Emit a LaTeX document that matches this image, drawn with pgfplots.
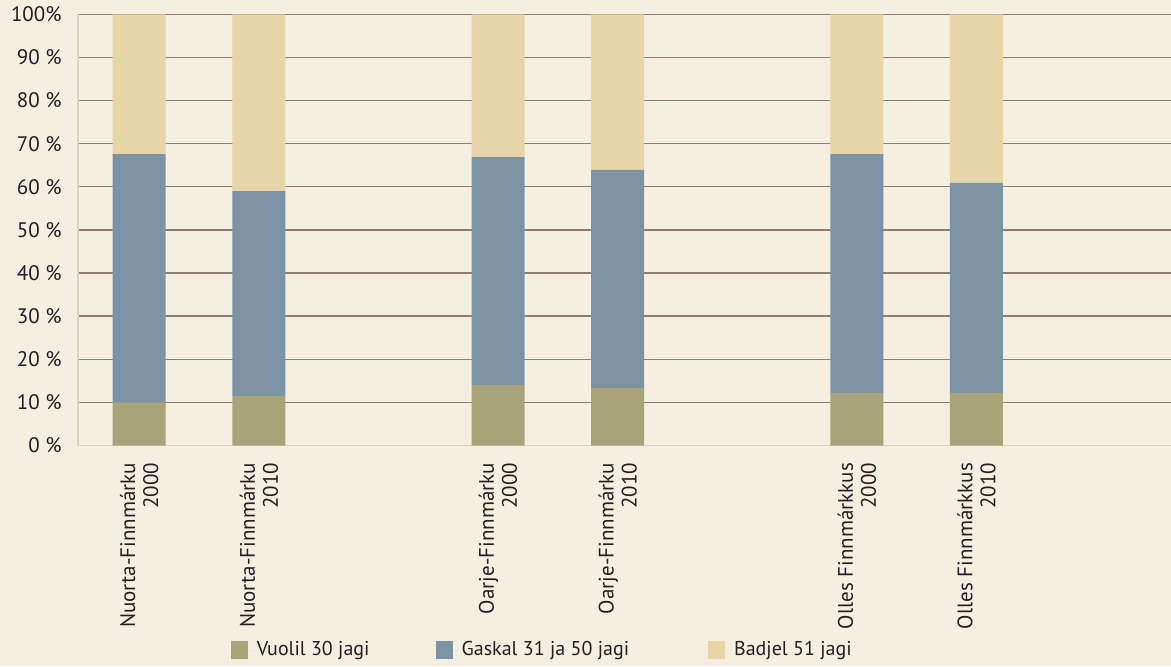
\documentclass[border=0pt]{standalone}
\usepackage{pgfplots}
\pgfplotsset{compat=1.18}
\usepackage{fontspec}
\setmainfont{PT Sans}
\definecolor{bg}{HTML}{F5EFE2}
\definecolor{cV}{HTML}{A8A47A}
\definecolor{cG}{HTML}{7C93A6}
\definecolor{cB}{HTML}{E6D5A8}
\definecolor{gridc}{HTML}{8C7F72}
\definecolor{axl}{HTML}{DCD3BC}
\definecolor{txt}{HTML}{231F20}
\begin{document}
\begin{tikzpicture}[x=1pt,y=1pt]
\fill[bg] (0,0) rectangle (585.5,333);
\begin{axis}[
  at={(39pt,110.25pt)}, anchor=south west,
  scale only axis, width=546.5pt, height=215.6pt,
  ybar stacked, bar width=26.5pt,
  xmin=-0.512, xmax=8.627, ymin=0, ymax=100,
  axis x line*=bottom, axis y line*=left,
  axis line style={draw=axl, line width=0.8pt},
  major tick length=0pt,
  xtick={0,1,3,4,6,7},
  xticklabels={{Nuorta-Finnmárku\\2000},{Nuorta-Finnmárku\\2010},{Oarje-Finnmárku\\2000},{Oarje-Finnmárku\\2010},{Olles Finnmárkkus\\2000},{Olles Finnmárkkus\\2010}},
  xticklabel style={yshift=-8.5pt, rotate=90, anchor=east, align=right, inner sep=0pt, font=\fontsize{10.5}{11.5}\selectfont, text=txt},
  ytick={0,10,...,100},
  yticklabels={0 \%,10 \%,20 \%,30 \%,40 \%,50 \%,60 \%,70 \%,80 \%,90 \%,100\%},
  yticklabel style={anchor=east, inner sep=0pt, xshift=-8pt, font=\fontsize{10.5}{12}\selectfont, text=txt},
  ymajorgrids, major grid style={draw=gridc, line width=0.65pt},
  legend columns=3,
  legend style={at={(0.134,-0.4743)}, anchor=west, draw=none, fill=none,
    font=\fontsize{10}{12}\selectfont, text=txt,
    /tikz/every even column/.append style={column sep=31pt},
    /tikz/every odd column/.append style={column sep=0pt}},
  legend image code/.code={\path (0pt,0pt) rectangle (11pt,0pt);\fill[#1] (0pt,-4.5pt) rectangle (8.5pt,4.5pt);},
  legend cell align=left,
]
\addplot[fill=cV, draw=none] coordinates {(0,10.0) (1,11.5) (3,14.0) (4,13.3) (6,12.2) (7,12.2)};
\addplot[fill=cG, draw=none] coordinates {(0,57.6) (1,47.5) (3,52.9) (4,50.6) (6,55.4) (7,48.7)};
\addplot[fill=cB, draw=none] coordinates {(0,32.4) (1,41.0) (3,33.1) (4,36.1) (6,32.4) (7,39.1)};
\legend{Vuolil 30 jagi, Gaskal 31 ja 50 jagi\hspace*{6.5pt}, Badjel 51 jagi}
\end{axis}
\pgfresetboundingbox
\path[use as bounding box] (0,0) rectangle (585.5,333);
\end{tikzpicture}
\end{document}
